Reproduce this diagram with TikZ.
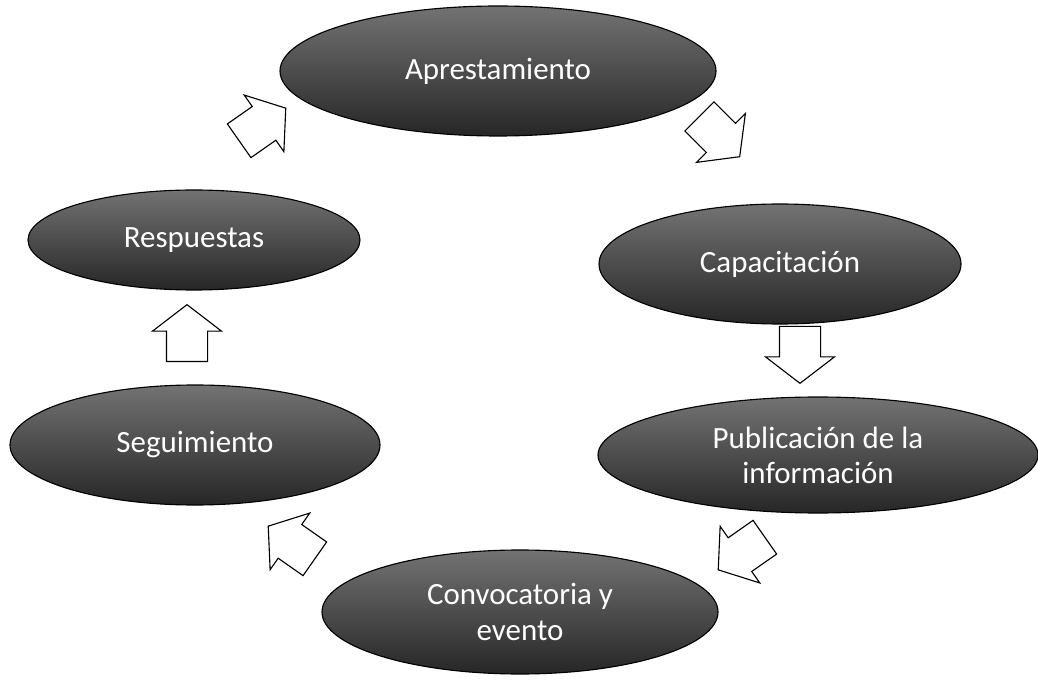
\documentclass[tikz,border=0pt]{standalone}
\usepackage{fontspec}
\setmainfont{Carlito}
\usepackage{tikz}
\usetikzlibrary{shapes, positioning, calc}

\tikzset{
  etapa/.style={ellipse, draw=black, thick, inner sep=0pt, align=center,
    top color=black!55, bottom color=black!85, text=white,
    font=\fontsize{22}{25}\selectfont},
  flecha/.style={single arrow, draw=black, thick, fill=white, inner sep=0.5cm,
    minimum height=1.35cm, single arrow head extend=0.35cm,
    single arrow tip angle=105},
}

\begin{document}
\begin{tikzpicture}
    \useasboundingbox (0,0) rectangle (25.95,17.025);

    % Etapas del ciclo
    \node[etapa, minimum width=10.9cm, minimum height=3.25cm] (apresta) at (12.45,15.25) {Aprestamiento};
    \node[etapa, minimum width=9.05cm, minimum height=3.0cm] (capacita) at (19.5,10.425) {Capacitación};
    \node[etapa, minimum width=11.0cm, minimum height=2.9cm] (publica) at (20.45,5.65) {Publicación de la\\información};
    \node[etapa, minimum width=9.9cm, minimum height=3.1cm] (convoca) at (13.0,1.725) {Convocatoria y\\evento};
    \node[etapa, minimum width=9.25cm, minimum height=3.0cm] (seguim) at (4.875,5.9) {Seguimiento};
    \node[etapa, minimum width=8.3cm, minimum height=2.5cm] (respuesta) at (4.85,11.025) {Respuestas};

    % Flechas entre etapas
    \node[flecha, rotate=35] (f1) at (6.4,13.8) {};
    \node[flecha, rotate=-45] (f2) at (17.85,13.75) {};
    \node[flecha, rotate=-90] (f3) at (20.0,8.35) {};
    \node[flecha, rotate=-145] (f4) at (18.7,3.3) {};
    \node[flecha, rotate=145] (f5) at (7.45,3.35) {};
    \node[flecha, rotate=90] (f6) at (4.675,8.5) {};
\end{tikzpicture}
\end{document}
